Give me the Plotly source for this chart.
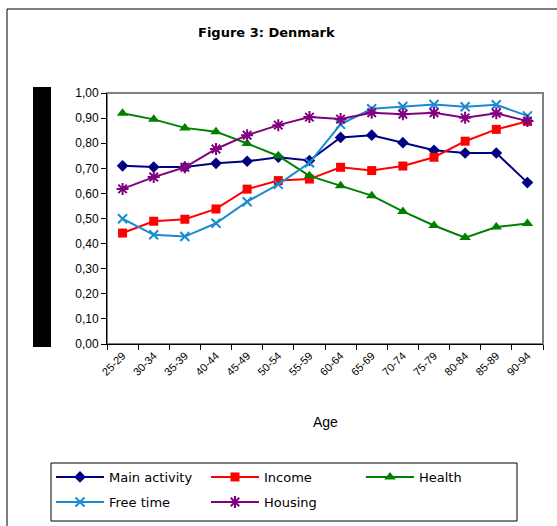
import plotly.graph_objects as go

# Age groups (x categories)
age_groups = ["25-29", "30-34", "35-39", "40-44", "45-49", "50-54", "55-59",
              "60-64", "65-69", "70-74", "75-79", "80-84", "85-89", "90-94"]

# Satisfaction scores per domain
main_activity = [0.710, 0.705, 0.705, 0.720, 0.728, 0.744, 0.731, 0.823, 0.832, 0.802, 0.772, 0.761, 0.761, 0.643]
income        = [0.442, 0.489, 0.497, 0.538, 0.617, 0.651, 0.657, 0.704, 0.691, 0.709, 0.744, 0.808, 0.855, 0.887]
health        = [0.919, 0.895, 0.861, 0.846, 0.799, 0.749, 0.670, 0.630, 0.591, 0.528, 0.472, 0.424, 0.466, 0.480]
free_time     = [0.499, 0.435, 0.428, 0.481, 0.567, 0.636, 0.722, 0.875, 0.937, 0.946, 0.954, 0.945, 0.953, 0.909]
housing       = [0.618, 0.665, 0.704, 0.777, 0.832, 0.872, 0.904, 0.896, 0.921, 0.915, 0.921, 0.901, 0.919, 0.888]

y_ticks = [0.0, 0.1, 0.2, 0.3, 0.4, 0.5, 0.6, 0.7, 0.8, 0.9, 1.0]

W, H = 557, 526
L, R, T, B = 107, 543, 93, 344  # plot area in pixels


def px_x(px):
    return (px - L) / (R - L)


def px_y(py):
    return (B - py) / (B - T)


# name, values, colour, marker, legend row
series = [
    ("Main activity", main_activity, "#000080", dict(symbol="diamond", size=9), "legend"),
    ("Income", income, "#FF0000", dict(symbol="square", size=9), "legend"),
    ("Health", health, "#008000", dict(symbol="triangle-up", size=10), "legend"),
    ("Free time", free_time, "#1B8BD0",
     dict(symbol="x-thin", size=9, line=dict(width=2, color="#1B8BD0")), "legend2"),
    ("Housing", housing, "#800080",
     dict(symbol="asterisk", size=10, line=dict(width=2, color="#800080")), "legend2"),
]

fig = go.Figure()
for name, vals, color, marker, leg in series:
    fig.add_trace(go.Scatter(
        x=age_groups, y=vals, name=name, mode="lines+markers",
        line=dict(color=color, width=2),
        marker=dict(color=color, **marker),
        legend=leg,
    ))

font = "Liberation Sans, Arial, sans-serif"
wide_font = "DejaVu Sans, Liberation Sans, sans-serif"

legend_common = dict(
    orientation="h", xanchor="left", yanchor="middle",
    xref="paper", yref="paper",
    bgcolor="rgba(0,0,0,0)", borderwidth=0,
    font=dict(family=wide_font, size=13, color="black"),
    itemwidth=48,
    entrywidth=92, entrywidthmode="pixels",
    traceorder="normal",
)

fig.update_layout(
    width=W, height=H,
    margin=dict(l=L, r=W - R, t=T, b=H - B, pad=0, autoexpand=False),
    paper_bgcolor="white", plot_bgcolor="white",
    separators=",.",
    font=dict(family=font, size=12, color="black"),
    showlegend=True,
    legend=dict(x=px_x(51), y=px_y(477), **legend_common),
    legend2=dict(x=px_x(51), y=px_y(502), **legend_common),
    xaxis=dict(
        type="category", range=[-0.5, len(age_groups) - 0.5],
        showline=True, linecolor="black", linewidth=1,
        ticks="outside", ticklen=5, tickcolor="black", tickson="boundaries",
        tickangle=-45, tickfont=dict(size=11),
        showgrid=False, zeroline=False,
    ),
    yaxis=dict(
        range=[0, 1], tickvals=y_ticks, tickformat=".2f",
        showline=True, linecolor="black", linewidth=1,
        ticks="outside", ticklen=5, tickcolor="black",
        tickfont=dict(size=12),
        showgrid=False, zeroline=False,
    ),
    shapes=[
        # outer chart frame
        dict(type="rect", xref="paper", yref="paper",
             x0=px_x(7), x1=px_x(W + 5), y0=px_y(H + 5), y1=px_y(9),
             line=dict(color="black", width=1), layer="below"),
        # plot area border
        dict(type="rect", xref="paper", yref="paper",
             x0=0, x1=1, y0=0, y1=1,
             line=dict(color="#808080", width=2), layer="below"),
        # solid block beside the value axis
        dict(type="rect", xref="paper", yref="paper",
             x0=px_x(33), x1=px_x(51), y0=px_y(347), y1=px_y(87),
             fillcolor="black", line=dict(width=0)),
        # legend frame
        dict(type="rect", xref="paper", yref="paper",
             x0=px_x(51), x1=px_x(517), y0=px_y(521), y1=px_y(463),
             line=dict(color="black", width=1)),
    ],
    annotations=[
        dict(text="<b>Figure 3: Denmark</b>", xref="paper", yref="paper",
             x=px_x(266), y=px_y(32), xanchor="center", yanchor="middle",
             showarrow=False, font=dict(family=wide_font, size=13)),
        dict(text="Age", xref="paper", yref="paper",
             x=0.5, y=px_y(422), xanchor="center", yanchor="middle",
             showarrow=False, font=dict(family=font, size=14)),
    ],
)

fig.write_html("out.html")
